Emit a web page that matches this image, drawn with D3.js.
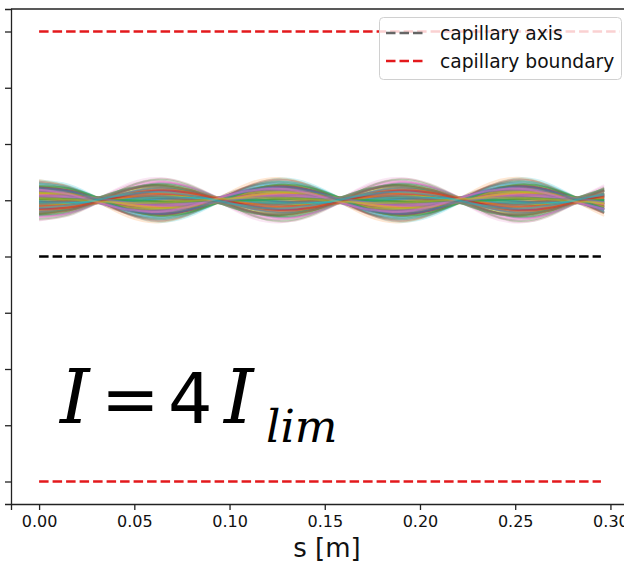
<!DOCTYPE html>
<html>
<head>
<meta charset="utf-8">
<script src="https://cdn.jsdelivr.net/npm/d3@7"></script>
<style>
  body { margin: 0; background: #fff; }
  svg { display: block; font-family: "DejaVu Sans", sans-serif; }
</style>
</head>
<body>
<svg id="plot" width="624" height="563"></svg>
<script>
"use strict";

const envS = [0, 0.0155, 0.031, 0.047, 0.0625, 0.078, 0.094, 0.110, 0.126, 0.142,
  0.158, 0.1735, 0.189, 0.205, 0.221, 0.2365, 0.252, 0.267, 0.2826, 0.2967];
// signed envelope (betatron term), capillary radius = 1
const envMain = [0.093, 0.067, 0, -0.072, -0.102, -0.072, 0, 0.072, 0.102, 0.072,
  0, -0.072, -0.102, -0.072, 0, 0.073, 0.103, 0.073, 0, -0.066];
// small quadrature term giving the spread at the waists
const envQuad = [0, -0.009, -0.013, -0.009, 0, 0.009, 0.013, 0.009, 0, -0.009,
  -0.013, -0.009, 0, 0.009, 0.013, 0.009, 0, -0.009, -0.013, -0.009];

const beamCenter = 0.25;

// per-particle weights on the two terms
const particleAmp = [0.12, -0.58, 0.83, -0.21, 0.47, -0.93, 0.05, 0.66, -0.37, 0.29,
  -0.74, 0.91, -0.08, 0.54, -0.49, 0.18, -0.86, 0.72, -0.15, 0.39,
  -0.63, 0.97, -0.28, 0.61, -0.02, 0.33, -0.79, 0.44, -0.55, 0.87,
  -0.11, 0.24, -0.69, 0.58, -0.41, 0.09, -0.97, 0.76, -0.33, 0.51,
  -0.18, 0.68, -0.89, 0.15, -0.46, 0.81, -0.25, 0.36, -0.61, 0.94,
  -0.05, 0.27, -0.72, 0.63, -0.39, 0.20, -0.83, 0.49, -0.13, 0.71,
  -0.52, 0.02, -0.65, 0.89, -0.31, 0.42, -0.77, 0.56, -0.22, 0.79,
  -0.44, 0.31, 0.07, -0.35, 0.53, -0.16, 0.26, -0.59, 0.38, -0.04,
  0.14, -0.47, 0.67, -0.27, 0.45, -0.09, 0.19, -0.57, 0.34, -0.12,
  0.60, -0.30, 0.03, -0.42, 0.22, -0.66, 0.50, -0.20, 0.11, -0.36];
const particleQuad = [0.4, -0.7, 0.1, 0.9, -0.3, 0.6, -0.9, 0.2, 0.5, -0.5,
  0.8, -0.1, 0.3, -0.8, 0.7, 0.0, -0.4, 0.9, -0.6, 0.2,
  -0.2, 0.6, -1.0, 0.4, 0.7, -0.3, 0.1, -0.7, 0.9, -0.5,
  0.3, 0.8, -0.1, -0.6, 0.5, 1.0, -0.4, 0.2, -0.8, 0.6,
  0.0, -0.9, 0.4, 0.7, -0.2, 0.1, 0.9, -0.5, 0.3, -0.7,
  0.8, -0.3, 0.5, -0.1, 0.6, -0.9, 0.2, -0.4, 1.0, -0.6,
  0.4, 0.7, -0.8, 0.0, 0.3, -0.2, 0.9, -0.5, 0.1, -0.7,
  0.6, -0.3, -0.5, 0.3, 0.8, -0.6, 0.1, -0.9, 0.4, 0.7,
  -0.2, 0.5, -0.8, 0.2, 0.9, -0.4, 0.0, 0.6, -0.7, 0.3,
  -0.1, 0.8, -0.3, 0.5, -0.6, 0.1, 0.7, -0.9, 0.4, -0.2];

const capillaryS = [0, 0.295];
const capillaryTopS = [0, 0.305];
const capillaryRadius = 1;

const xTicks = [0, 0.05, 0.10, 0.15, 0.20, 0.25, 0.30];
const yTicks = [-1, -0.75, -0.5, -0.25, 0, 0.25, 0.5, 0.75, 1];

const legendLabels = ["capillary axis", "capillary boundary"];
const tab10 = d3.schemeCategory10;

const svg = d3.select("svg#plot");

const x = d3.scaleLinear().domain([-0.01475, 0.30975]).range([11, 629]);
const y = d3.scaleLinear().domain([-1.1, 1.1]).range([504, 9]);

// beam trajectories, the few outer ones fade out
const line = d3.line()
  .x((d) => x(d[0]))
  .y((d) => y(d[1]))
  .curve(d3.curveNatural);
const fade = d3.scaleLinear().domain([0.6, 1]).range([0.5, 0.15]).clamp(true);

let beam = svg.append("g").attr("id", "beam");
particleAmp.forEach((a, i) => {
  let b = particleQuad[i];
  let pts = envS.map((s, k) => [s, beamCenter + a * envMain[k] + b * envQuad[k]]);
  beam.append("path")
    .attr("d", line(pts))
    .attr("fill", "none")
    .attr("stroke", tab10[i % 10])
    .attr("stroke-width", 2)
    .attr("stroke-opacity", fade(Math.abs(a)));
});

// capillary lines
const dash = "9.5 4";
function hline(sRange, yv, color) {
  svg.append("line")
    .attr("x1", x(sRange[0])).attr("x2", x(sRange[1]))
    .attr("y1", y(yv)).attr("y2", y(yv))
    .attr("stroke", color)
    .attr("stroke-width", 2.6)
    .attr("stroke-dasharray", dash);
}
hline(capillaryTopS, capillaryRadius, "#e3191c");
hline(capillaryS, -capillaryRadius, "#e3191c");
hline(capillaryS, 0, "#000");

// axes
let xAxis = svg.append("g")
  .attr("transform", "translate(0,504)")
  .call(d3.axisBottom(x).tickValues(xTicks).tickFormat(d3.format(".2f"))
    .tickSize(6).tickPadding(6));
xAxis.selectAll("text").attr("font-size", "16px").attr("fill", "#111")
  .attr("font-family", "DejaVu Sans");

let yAxis = svg.append("g")
  .attr("transform", "translate(11,0)")
  .call(d3.axisLeft(y).tickValues(yTicks).tickFormat("").tickSize(6));

[xAxis, yAxis].forEach((g) => {
  g.select(".domain").attr("stroke", "#222").attr("stroke-width", 1.3);
  g.selectAll(".tick line").attr("stroke", "#222").attr("stroke-width", 1.3);
});

// top frame
svg.append("line")
  .attr("x1", 11).attr("x2", 629).attr("y1", 9).attr("y2", 9)
  .attr("stroke", "#222").attr("stroke-width", 1.3);

svg.append("text")
  .attr("x", 327).attr("y", 557)
  .attr("text-anchor", "middle")
  .attr("font-size", "26px")
  .attr("fill", "#111")
  .text("s [m]");

// annotation I = 4 I_lim
let ann = svg.append("g").attr("fill", "#000");
function italicI(xp) {
  ann.append("text").attr("x", xp).attr("y", 423).attr("font-size", "75px")
    .attr("font-family", "DejaVu Serif").attr("font-style", "italic").text("I");
}
italicI(60);
ann.append("text").attr("x", 101).attr("y", 423).attr("font-size", "70px")
  .attr("font-family", "DejaVu Sans").text("=");
ann.append("text").attr("x", 168).attr("y", 423).attr("font-size", "70px")
  .attr("font-family", "DejaVu Sans").text("4");
italicI(224);
ann.append("text").attr("x", 266).attr("y", 442).attr("font-size", "45px")
  .attr("font-family", "DejaVu Serif").attr("font-style", "italic").text("lim");

// legend
let legend = svg.append("g").attr("id", "legend");
legend.append("rect")
  .attr("x", 379.5).attr("y", 17.5).attr("width", 242).attr("height", 62)
  .attr("rx", 4)
  .attr("fill", "#fff").attr("fill-opacity", 0.8)
  .attr("stroke", "#d0d0d0").attr("stroke-width", 1);
const legendColors = ["#666", "#e3191c"];
legendLabels.forEach((lab, i) => {
  let ly = 33 + i * 28;
  legend.append("line")
    .attr("x1", 386).attr("x2", 425).attr("y1", ly).attr("y2", ly)
    .attr("stroke", legendColors[i]).attr("stroke-width", 2.6)
    .attr("stroke-dasharray", dash);
  legend.append("text")
    .attr("x", 440).attr("y", ly + 6.5)
    .attr("font-size", "18.7px").attr("fill", "#111")
    .text(lab);
});
</script>
</body>
</html>
